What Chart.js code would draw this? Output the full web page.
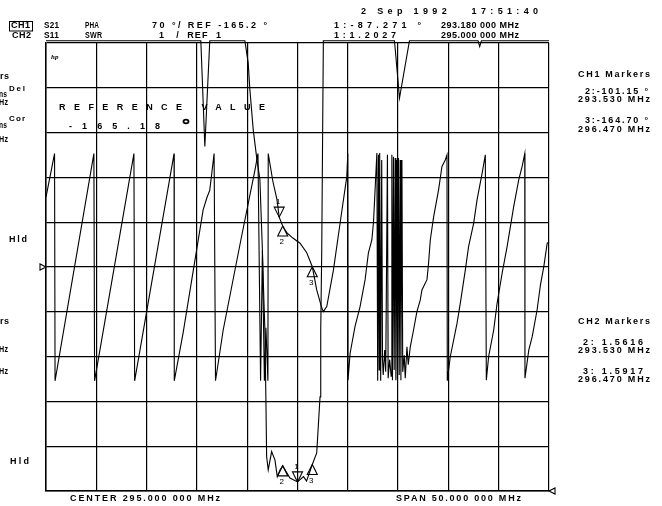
<!DOCTYPE html>
<html>
<head>
<meta charset="utf-8">
<script src="https://cdn.jsdelivr.net/npm/chart.js@4.4.0/dist/chart.umd.min.js"></script>
<style>
  html, body { margin: 0; padding: 0; background: #fff; }
  #wrap { width: 662px; height: 506px; }
</style>
</head>
<body>
<div id="wrap"><canvas id="vna" width="662" height="506"></canvas></div>
<script>
// sweep
const centerMHz = 295;
const spanMHz = 50;

// CH1: S21 phase, 70 deg/div, ref -165.2 deg at centre line
const phaseRef = -165.2;
const phasePerDiv = 70;
const ch1Freq = [
  270.00, 270.85, 270.90, 274.76, 274.83, 278.74, 278.81, 282.73, 282.75, 283.63,
  285.62, 285.99, 286.28, 286.71, 286.85, 287.61, 289.37, 290.77, 291.07, 291.33,
  291.51, 291.71, 291.86, 292.06, 292.09, 292.56, 292.96, 293.18, 293.53, 293.96,
  294.54, 295.25, 295.92, 296.47, 296.91, 297.41, 297.57, 297.91, 298.57, 299.24,
  299.90, 300.00, 300.02, 300.23, 300.72, 301.22, 301.72, 302.05, 302.39, 302.55,
  302.65, 302.89, 302.97, 303.05, 303.12, 303.17, 303.27, 303.37, 303.45, 303.52,
  303.67, 303.77, 303.94, 304.01, 304.16, 304.31, 304.38, 304.44, 304.54, 304.61,
  304.71, 304.78, 304.86, 304.94, 305.04, 305.11, 305.21, 305.28, 305.38, 305.46,
  305.61, 305.71, 305.88, 306.01, 306.21, 306.53, 306.87, 307.20, 307.37, 307.87,
  308.03, 308.20, 308.53, 309.02, 309.36, 309.69, 309.86, 309.89, 310.19, 310.86,
  311.18, 311.68, 312.01, 312.51, 312.85, 313.35, 313.67, 313.77, 314.00, 314.50,
  314.84, 315.34, 315.84, 316.49, 316.99, 317.33, 317.59, 317.61, 317.99, 318.33,
  318.82, 319.15, 319.48, 319.82, 320.00
];
const ch1Phase = [
  -56, 12, -343, 12, -343, 12, -343, 12, -343, -268,
  -76, -57, -45, 12, -343, -264, -123, -14, 12, -343,
  -140, -343, -260, -343, 12, -32, -60, -87.271, -101.15, -112,
  -120, -128, -143, -164.70, -201, -229, -235, -227, -170, -96,
  -24, 12, -342, -300, -258, -227, -185, -143, -123, -96,
  -65, 13, -343, 10, -326, 13, -343, 2, -310, -334,
  -295, -329, 10, -339, -310, -336, 10, -342, 7, -326,
  5, -342, 2, -339, 5, -334, 2, -342, 2, -329,
  -303, -339, -290, -318, -290, -264, -235, -217, -201, -185,
  -159, -123, -87, -45, -8, 2, 10, -343, -305, -253,
  -222, -170, -133, -97, -60, -19, 10, -342, -305, -264,
  -222, -175, -133, -71, -29, -8, 12, -339, -295, -274,
  -232, -193, -165, -128, -126
];

// CH2: S11 SWR, 1/div, ref 1 at bottom line (11.05 = pinned above top)
const swrRef = 1;
const swrPerDiv = 1;
const ch2Freq = [
  270.00, 285.39, 285.79, 286.28, 289.77, 290.10, 290.27, 290.60, 290.97, 291.26,
  291.51, 291.66, 291.76, 291.86, 291.93, 292.09, 292.43, 292.76, 292.99, 293.26,
  293.53, 294.25, 295.00, 295.60, 295.90, 296.47, 296.91, 297.24, 297.31, 297.41,
  297.51, 297.57, 304.64, 305.14, 306.13, 312.95, 313.11, 313.28, 320.00
];
const ch2Swr = [
  11.05, 11.05, 8.69, 11.05, 11.05, 10.55, 9.95, 9.06, 8.39, 7.96,
  6.38, 5.26, 4.59, 3.03, 1.77, 1.47, 1.88, 1.69, 1.32, 1.47,
  1.5616, 1.29, 1.2027, 1.32, 1.22, 1.5917, 1.85, 3.10, 4.59, 6.38,
  9.35, 11.05, 11.05, 9.77, 11.05, 11.05, 10.92, 11.05, 11.05
];

// markers (1 is the active one)
const markerNames = ['1', '2', '3'];
const ch1MarkerFreq = [293.18, 293.53, 296.47];
const ch1MarkerVal = [-87.271, -101.15, -164.70];
const ch2MarkerFreq = [295.00, 293.53, 296.47];
const ch2MarkerVal = [1.2027, 1.5616, 1.5917];

// screen annotations: [text, left x, middle y, width]
const labels = [
  ['S21', 44, 26, 15], ['PHA', 85, 26, 14], ['70 °/ REF -165.2 °', 152, 26, 115],
  ['CH2', 12, 36, 19], ['S11', 44, 36, 15], ['SWR', 85, 36, 17], ['1   /  REF  1', 159, 36, 62],
  ['2 Sep 1992   17:51:40', 361, 12, 177],
  ['1:-87.271 °', 334, 26, 87], ['293.180 000 MHz', 441, 26, 78],
  ['1:1.2027', 334, 36, 62], ['295.000 000 MHz', 441, 36, 78],
  ['rs', 0, 77, 9], ['ns', -1, 95, 8], ['Hz', -1, 103, 9], ['ns', -1, 126, 8], ['Hz', -1, 140, 9],
  ['Hld', 9, 240, 18], ['rs', 0, 322, 9], ['Hz', -1, 350, 9], ['Hz', -1, 372, 9], ['Hld', 10, 462, 19],
  ['CH1 Markers', 578, 75, 72], ['2:-101.15 °', 585, 92, 63], ['293.530 MHz', 578, 100, 72],
  ['3:-164.70 °', 585, 121, 63], ['296.470 MHz', 578, 130, 72],
  ['CH2 Markers', 578, 322, 72], ['2: 1.5616', 583, 343, 60], ['293.530 MHz', 578, 351, 72],
  ['3: 1.5917', 583, 372, 60], ['296.470 MHz', 578, 380, 72],
  ['CENTER 295.000 000 MHz', 70, 499, 150], ['SPAN 50.000 000 MHz', 396, 499, 125]
];
const plotLabels = [['REFERENCE VALUE', 59, 108, 206], ['-165.18', 69, 127, 91]];
const smallLabels = [['Del', 9, 89, 16], ['Cor', 9, 119, 16]];

// draw a string stretched (or squeezed) to a given width
function spaced(ctx, s, x, y, w) {
  ctx.letterSpacing = '0px';
  const n = s.length;
  const m = ctx.measureText(s).width;
  let ls = n > 1 ? (w - m) / (n - 1) : 0;
  let sx = 1;
  if (ls < 0.3) {
    ls = 0.3;
    sx = w / (m + ls * (n - 1));
  }
  ctx.save();
  ctx.letterSpacing = ls.toFixed(2) + 'px';
  ctx.translate(x, y);
  ctx.scale(sx, 1);
  ctx.fillText(s, 0, 0);
  ctx.restore();
}

function marker(ctx, px, py, active, name) {
  ctx.beginPath();
  if (active) {
    ctx.moveTo(px, py); ctx.lineTo(px - 5, py - 10); ctx.lineTo(px + 5, py - 10);
  } else {
    ctx.moveTo(px, py); ctx.lineTo(px - 5, py + 10); ctx.lineTo(px + 5, py + 10);
  }
  ctx.closePath();
  ctx.stroke();
  ctx.font = '8px "Liberation Sans"';
  ctx.textAlign = 'center';
  ctx.fillText(name, px - 1, active ? py - 15 : py + 16);
  ctx.textAlign = 'left';
}

const overlay = {
  id: 'overlay',
  afterDraw(chart) {
    const ctx = chart.ctx;
    const { x, y, y2 } = chart.scales;
    const area = chart.chartArea;
    ctx.save();
    ctx.fillStyle = '#000';
    ctx.strokeStyle = '#000';
    ctx.lineWidth = 1.1;
    ctx.textBaseline = 'middle';

    for (let i = 0; i < markerNames.length; i++) {
      marker(ctx, x.getPixelForValue(ch1MarkerFreq[i]), y.getPixelForValue(ch1MarkerVal[i]), i === 0, markerNames[i]);
      marker(ctx, x.getPixelForValue(ch2MarkerFreq[i]), y2.getPixelForValue(ch2MarkerVal[i]), i === 0, markerNames[i]);
    }

    // reference position arrows
    const ry = y.getPixelForValue(phaseRef);
    ctx.beginPath();
    ctx.moveTo(area.left, ry); ctx.lineTo(area.left - 6, ry - 3); ctx.lineTo(area.left - 6, ry + 3); ctx.closePath();
    ctx.stroke();
    const ry2 = y2.getPixelForValue(swrRef);
    ctx.beginPath();
    ctx.moveTo(area.right, ry2); ctx.lineTo(area.right + 6, ry2 - 3); ctx.lineTo(area.right + 6, ry2 + 3); ctx.closePath();
    ctx.stroke();

    ctx.font = 'bold 9px "Liberation Sans"';
    labels.forEach(l => spaced(ctx, l[0], l[1], l[2], l[3]));
    spaced(ctx, 'CH1', 11, 26, 19);
    ctx.lineWidth = 1;
    ctx.strokeRect(9.5, 21.5, 23, 9.5);
    plotLabels.forEach(l => spaced(ctx, l[0], l[1], l[2], l[3]));
    ctx.font = 'bold 8px "Liberation Sans"';
    smallLabels.forEach(l => spaced(ctx, l[0], l[1], l[2], l[3]));

    // hp logo and the small sign after REFERENCE VALUE
    ctx.font = 'italic bold 7px "Liberation Serif"';
    ctx.fillText('hp', 51, 57);
    ctx.lineWidth = 1.8;
    ctx.beginPath();
    ctx.ellipse(186, 121.5, 2.5, 1.8, 0, 0, Math.PI * 2);
    ctx.stroke();
    ctx.restore();
  }
};

const phaseData = ch1Freq.map((f, i) => ({ x: f, y: ch1Phase[i] }));
const swrData = ch2Freq.map((f, i) => ({ x: f, y: ch2Swr[i] }));

const gridStyle = { color: '#000', lineWidth: 1.2, drawTicks: false };
const borderStyle = { color: '#000', width: 1.5 };

new Chart(document.getElementById('vna').getContext('2d'), {
  type: 'line',
  data: {
    datasets: [
      { label: 'CH1 S21 PHA', data: phaseData, yAxisID: 'y', borderColor: '#000',
        borderWidth: 1.1, pointRadius: 0, tension: 0, clip: 3 },
      { label: 'CH2 S11 SWR', data: swrData, yAxisID: 'y2', borderColor: '#000',
        borderWidth: 1.1, pointRadius: 0, tension: 0, clip: 4 }
    ]
  },
  options: {
    responsive: false,
    animation: false,
    devicePixelRatio: 1,
    layout: { padding: { left: 46, top: 43, right: 113, bottom: 15 } },
    plugins: { legend: { display: false }, tooltip: { enabled: false } },
    scales: {
      x: {
        type: 'linear',
        min: centerMHz - spanMHz / 2,
        max: centerMHz + spanMHz / 2,
        ticks: { display: false, stepSize: spanMHz / 10 },
        grid: gridStyle,
        border: borderStyle
      },
      y: {
        min: phaseRef - 5 * phasePerDiv,
        max: phaseRef + 5 * phasePerDiv,
        ticks: { display: false, stepSize: phasePerDiv },
        grid: gridStyle,
        border: borderStyle
      },
      y2: {
        display: false,
        min: swrRef,
        max: swrRef + 10 * swrPerDiv
      }
    }
  },
  plugins: [overlay]
});
</script>
</body>
</html>
